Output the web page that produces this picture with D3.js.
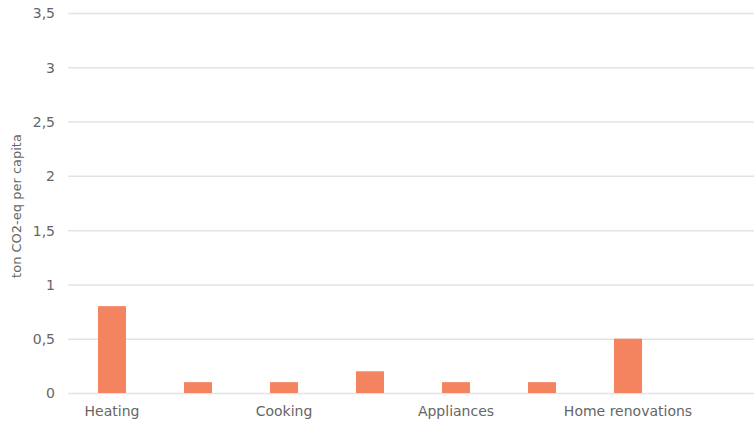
<!DOCTYPE html>
<html>
<head>
<meta charset="utf-8">
<script src="https://cdn.jsdelivr.net/npm/d3@7"></script>
<style>
  body { margin: 0; background: #fff; }
  text { font-family: "DejaVu Sans", sans-serif; fill: #666; }
</style>
</head>
<body>
<script>
// kategorier och värden (ton CO2-eq per capita)
var categories = ["Heating", "Hot water", "Cooking", "Lighting", "Appliances", "Electronics", "Home renovations", "Other"];
var values = [0.8, 0.1, 0.1, 0.2, 0.1, 0.1, 0.5, 0];
var yTicks = [0, 0.5, 1, 1.5, 2, 2.5, 3, 3.5];
var shownLabels = ["Heating", "Cooking", "Appliances", "Home renovations"];

var width = 754, height = 426;
var svg = d3.select('body').append('svg').attr('width', width).attr('height', height);

var xScale = d3.scaleBand()
    .domain(categories)
    .range([69, 757])
    .paddingInner(0.674)
    .paddingOuter(0.337);

var yScale = d3.scaleLinear()
    .domain([0, 3.5])
    .range([393, 13]);

var fmt = function(d) { return String(d).replace('.', ','); };

// gridlinjer + y-etiketter
var yAxis = svg.append('g')
    .attr('transform', 'translate(68,0)')
    .call(d3.axisRight(yScale).tickValues(yTicks).tickSize(width - 68).tickFormat(fmt));
yAxis.select('.domain').remove();
yAxis.selectAll('.tick line').attr('stroke', '#e3e3e3').attr('stroke-width', 1.5);
yAxis.selectAll('.tick text')
    .attr('x', -13)
    .attr('text-anchor', 'end')
    .attr('dy', '0.35em')
    .style('font-size', '14px');

// staplar
svg.selectAll('rect.bar')
    .data(values)
    .enter().append('rect')
    .attr('class', 'bar')
    .attr('x', function(d, i) { return xScale(categories[i]); })
    .attr('width', xScale.bandwidth())
    .attr('y', function(d) { return yScale(d); })
    .attr('height', function(d) { return yScale(0) - yScale(d); })
    .attr('fill', '#f4845f');

// x-etiketter, bara varannan visas
var xAxis = svg.append('g')
    .attr('transform', 'translate(0,393)')
    .call(d3.axisBottom(xScale).tickValues(shownLabels).tickSize(0).tickPadding(13));
xAxis.select('.domain').remove();
xAxis.selectAll('.tick text').style('font-size', '14px');

// y-axelns titel
svg.append('text')
    .attr('transform', 'translate(21,206) rotate(-90)')
    .attr('text-anchor', 'middle')
    .style('font-size', '13px')
    .text('ton CO2-eq per capita');
</script>
</body>
</html>
